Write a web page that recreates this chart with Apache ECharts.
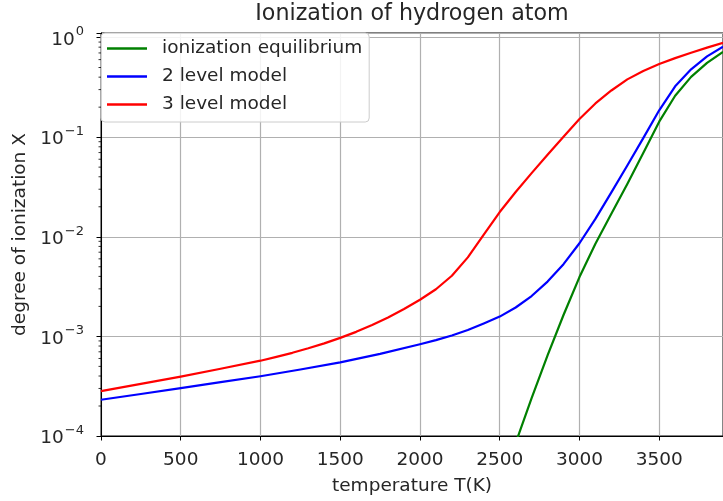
<!DOCTYPE html>
<html>
<head>
<meta charset="utf-8">
<script src="https://cdn.jsdelivr.net/npm/echarts@6/dist/echarts.min.js"></script>
<style>html,body{margin:0;padding:0;background:#fff;}#chart{width:723px;height:501px;}</style>
</head>
<body>
<div id="chart"></div>
<script>
// Temperatures (K)
const tempBlue = [0, 250, 500, 750, 1000, 1250, 1500, 1750, 2000, 2100, 2200, 2300, 2400, 2500, 2600, 2700, 2800, 2900, 3000, 3100, 3200, 3300, 3400, 3500, 3600, 3700, 3800, 3900];
const tempRed = [0, 250, 500, 750, 1000, 1100, 1200, 1300, 1400, 1500, 1600, 1700, 1800, 1900, 2000, 2100, 2200, 2300, 2400, 2500, 2600, 2700, 2800, 2900, 3000, 3100, 3200, 3300, 3400, 3500, 3600, 3700, 3800, 3900];
const tempGreen = [2600, 2700, 2800, 2900, 3000, 3100, 3200, 3300, 3400, 3500, 3600, 3700, 3800, 3900];

// degree of ionization X
const equilibriumX = [8.51e-5, 2.40e-4, 6.46e-4, 1.64e-3, 3.94e-3, 8.51e-3, 1.70e-2, 3.39e-2, 6.92e-2, 0.143, 0.260, 0.403, 0.556, 0.718];
const twoLevelX = [2.31e-4, 2.64e-4, 3.03e-4, 3.47e-4, 3.98e-4, 4.65e-4, 5.48e-4, 6.68e-4, 8.34e-4, 9.16e-4, 1.02e-3, 1.16e-3, 1.35e-3, 1.58e-3, 1.95e-3, 2.54e-3, 3.55e-3, 5.31e-3, 8.61e-3, 1.51e-2, 2.79e-2, 5.19e-2, 9.77e-2, 0.186, 0.324, 0.479, 0.646, 0.807];
const threeLevelX = [2.82e-4, 3.34e-4, 3.95e-4, 4.73e-4, 5.70e-4, 6.22e-4, 6.84e-4, 7.59e-4, 8.51e-4, 9.66e-4, 1.11e-3, 1.30e-3, 1.55e-3, 1.88e-3, 2.33e-3, 2.97e-3, 4.06e-3, 6.21e-3, 1.05e-2, 1.77e-2, 2.81e-2, 4.35e-2, 6.65e-2, 0.101, 0.152, 0.218, 0.294, 0.380, 0.462, 0.541, 0.621, 0.703, 0.791, 0.883];

const seriesNames = ['ionization equilibrium', '2 level model', '3 level model'];
const xTickLabels = ['0', '500', '1000', '1500', '2000', '2500', '3000', '3500'];
const minorTickValues = [];
[1e-4, 1e-3, 1e-2, 1e-1].forEach(d => { for (let k = 2; k <= 9; k++) minorTickValues.push(k * d); });

const zip = (xs, ys) => xs.map((x, i) => [x, ys[i]]);
const textColor = '#262626';
const font = 'DejaVu Sans';
const fs = 18.5;

const chart = echarts.init(document.getElementById('chart'), null, {renderer: 'canvas'});
chart.setOption({
  backgroundColor: '#fff',
  animation: false,
  graphic: [{
    type: 'text', x: 412, y: 3,
    style: {text: 'Ionization of hydrogen atom', fontFamily: font, fontSize: 22.2, fill: textColor, textAlign: 'center', textVerticalAlign: 'top'}
  }],
  grid: {left: 101, right: -1, top: 33, bottom: 62, show: true, borderColor: '#000', borderWidth: 1, backgroundColor: 'transparent'},
  legend: {
    orient: 'vertical', left: 101, top: 33,
    data: seriesNames,
    icon: 'rect', itemWidth: 40, itemHeight: 2.5, itemGap: 9,
    padding: [6, 7, 8, 6],
    backgroundColor: 'rgba(255,255,255,0.85)', borderColor: '#cccccc', borderWidth: 1, borderRadius: 4,
    textStyle: {fontFamily: font, fontSize: fs, color: textColor, padding: [0, 0, 0, 10]}
  },
  xAxis: {
    type: 'value', min: 0, max: 3900, interval: 500,
    name: 'temperature T(K)', nameLocation: 'middle', nameGap: 41,
    nameTextStyle: {fontFamily: font, fontSize: fs, color: textColor},
    axisLine: {show: true, lineStyle: {color: '#000', width: 1}},
    axisTick: {show: true, length: 4.5, lineStyle: {color: '#000'}},
    axisLabel: {margin: 15, fontFamily: font, fontSize: fs, color: textColor, showMaxLabel: false,
      formatter: v => { const s = String(v); return xTickLabels.indexOf(s) >= 0 ? s : ''; }},
    splitLine: {show: true, lineStyle: {color: '#b0b0b0', width: 1.2}}
  },
  yAxis: {
    type: 'log', logBase: 10, min: 1e-4, max: 1.11,
    name: 'degree of ionization X', nameLocation: 'middle', nameGap: 68,
    nameTextStyle: {fontFamily: font, fontSize: fs, color: textColor},
    axisLine: {show: true, lineStyle: {color: '#000', width: 1}},
    axisTick: {show: true, length: 4.5, lineStyle: {color: '#000'}},
    axisLabel: {
      margin: 17, fontFamily: font, fontSize: fs, color: textColor,
      formatter: v => {
        const e = Math.log10(v); const r = Math.round(e);
        if (Math.abs(e - r) > 1e-6) return '';
        return '{b|10}{s|' + (r < 0 ? '\u2212' + (-r) : String(r)) + '}';
      },
      rich: {
        b: {fontFamily: font, fontSize: fs, color: textColor, verticalAlign: 'bottom', lineHeight: 24},
        s: {fontFamily: font, fontSize: 13, color: textColor, verticalAlign: 'top', lineHeight: 24, padding: [0, 0, 0, 1]}
      }
    },
    splitLine: {show: true, lineStyle: {color: '#b0b0b0', width: 1.2}}
  },
  series: [
    {name: seriesNames[0], type: 'line', data: zip(tempGreen, equilibriumX), showSymbol: false, smooth: false, clip: true,
     lineStyle: {color: '#008000', width: 2.2, join: 'round'}, itemStyle: {color: '#008000'}},
    {name: seriesNames[1], type: 'line', data: zip(tempBlue, twoLevelX), showSymbol: false, smooth: false, clip: true,
     lineStyle: {color: '#0000ff', width: 2.2, join: 'round'}, itemStyle: {color: '#0000ff'}},
    {name: seriesNames[2], type: 'line', data: zip(tempRed, threeLevelX), showSymbol: false, smooth: false, clip: true,
     lineStyle: {color: '#ff0000', width: 2.2, join: 'round'}, itemStyle: {color: '#ff0000'}},
    {name: 'minor', type: 'custom', silent: true, clip: false, z: 5,
     data: minorTickValues.map(v => [0, v]),
     renderItem: (params, api) => {
       const p = api.coord([api.value(0), api.value(1)]);
       return {type: 'line', shape: {x1: p[0] - 2.5, y1: p[1], x2: p[0], y2: p[1]}, style: {stroke: '#000', lineWidth: 0.8}};
     }}
  ]
});
</script>
</body>
</html>
